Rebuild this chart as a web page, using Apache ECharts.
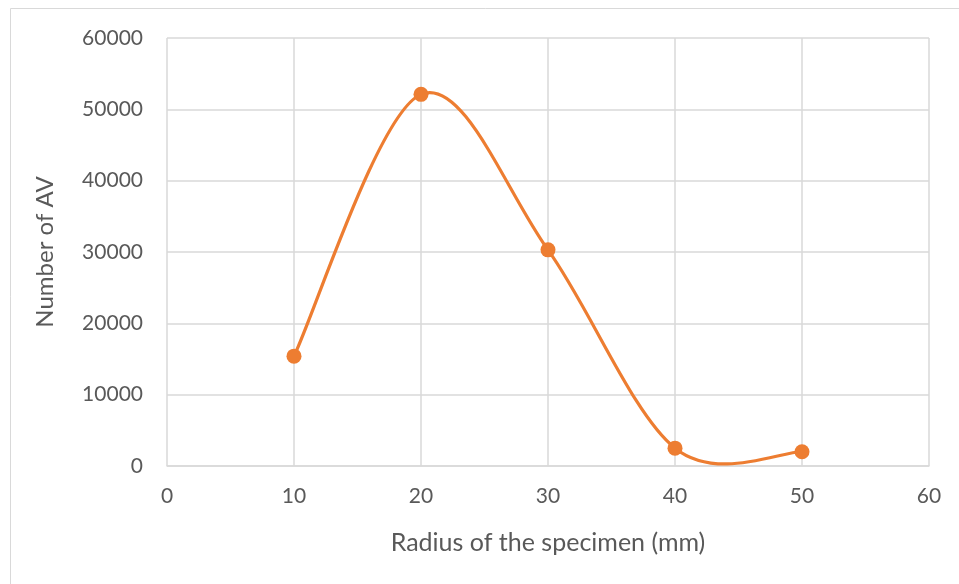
<!DOCTYPE html>
<html>
<head>
<meta charset="utf-8">
<script src="https://cdn.jsdelivr.net/npm/echarts@6/dist/echarts.min.js"></script>
<style>
  html, body { margin: 0; padding: 0; background: #fff; }
  #main { width: 959px; height: 584px; }
</style>
</head>
<body>
<div id="main"></div>
<script>
// radius (mm) vs number of AV
var radius = [10, 20, 30, 40, 50];
var avCount = [15400, 52100, 30300, 2500, 2000];

var chart = echarts.init(document.getElementById('main'));

var labelFont = 'Lato, "Open Sans", sans-serif';
var orange = '#ED7D31';

// Excel-style smoothed line (Catmull-Rom as cubic beziers) through the data points
function renderCurve(params, api) {
  if (params.dataIndex !== 0) return null;
  var pts = radius.map(function (r, i) { return api.coord([r, avCount[i]]); });
  var n = pts.length;
  var children = [];
  for (var i = 0; i < n - 1; i++) {
    var p0 = pts[Math.max(i - 1, 0)];
    var p1 = pts[i];
    var p2 = pts[i + 1];
    var p3 = pts[Math.min(i + 2, n - 1)];
    children.push({
      type: 'bezierCurve',
      shape: {
        x1: p1[0], y1: p1[1],
        cpx1: p1[0] + (p2[0] - p0[0]) / 6, cpy1: p1[1] + (p2[1] - p0[1]) / 6,
        cpx2: p2[0] - (p3[0] - p1[0]) / 6, cpy2: p2[1] - (p3[1] - p1[1]) / 6,
        x2: p2[0], y2: p2[1]
      },
      style: { stroke: orange, lineWidth: 3.2, fill: null }
    });
  }
  return { type: 'group', children: children };
}

var option = {
  animation: false,
  graphic: [{
    type: 'rect',
    shape: { x: 10.5, y: 8.5, width: 960, height: 600 },
    style: { fill: 'none', stroke: '#d9d9d9', lineWidth: 1 },
    silent: true
  }],
  grid: {
    left: 167,
    right: 30,
    top: 38,
    bottom: 118
  },
  xAxis: {
    type: 'value',
    min: 0,
    max: 60,
    interval: 10,
    name: 'Radius of the specimen (mm)',
    nameLocation: 'middle',
    nameGap: 64,
    nameTextStyle: { color: '#595959', fontSize: 25, fontFamily: labelFont },
    axisLine: { show: true, lineStyle: { color: '#d9d9d9', width: 1.5 } },
    axisTick: { show: false },
    axisLabel: { color: '#595959', fontSize: 21, fontFamily: labelFont, margin: 20 },
    splitLine: { show: true, lineStyle: { color: '#d9d9d9', width: 1.5 } }
  },
  yAxis: {
    type: 'value',
    min: 0,
    max: 60000,
    interval: 10000,
    name: 'Number of AV',
    nameLocation: 'middle',
    nameGap: 110,
    nameTextStyle: { color: '#595959', fontSize: 24, fontFamily: labelFont },
    axisLine: { show: false },
    axisTick: { show: false },
    axisLabel: {
      color: '#595959', fontSize: 21, fontFamily: labelFont, margin: 24,
      formatter: function (v) { return String(v); }
    },
    splitLine: { show: true, lineStyle: { color: '#d9d9d9', width: 1.5 } }
  },
  series: [{
    type: 'custom',
    renderItem: renderCurve,
    data: radius.map(function (r, i) { return [r, avCount[i]]; }),
    z: 2
  }, {
    type: 'scatter',
    data: radius.map(function (r, i) { return [r, avCount[i]]; }),
    symbol: 'circle',
    symbolSize: 15,
    itemStyle: { color: orange, opacity: 1 },
    z: 3
  }]
};

chart.setOption(option);
</script>
</body>
</html>
